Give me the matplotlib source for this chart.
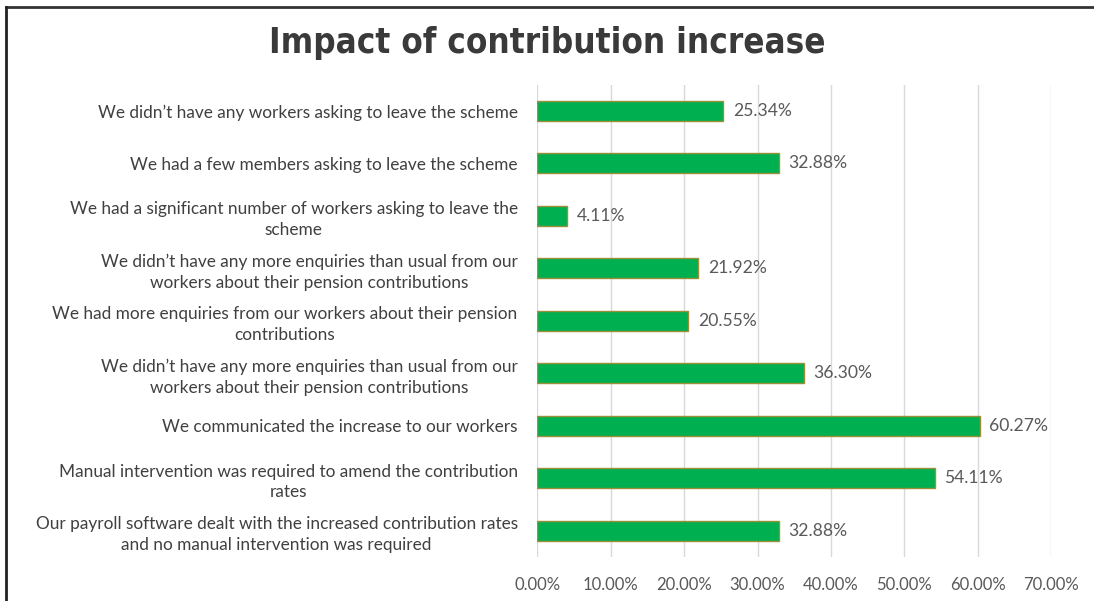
import matplotlib.pyplot as plt
from matplotlib.lines import Line2D

labels = [
    "We didn\u2019t have any workers asking to leave the scheme",
    "We had a few members asking to leave the scheme",
    "We had a significant number of workers asking to leave the\nscheme",
    "We didn\u2019t have any more enquiries than usual from our\nworkers about their pension contributions",
    "We had more enquiries from our workers about their pension\ncontributions",
    "We didn\u2019t have any more enquiries than usual from our\nworkers about their pension contributions",
    "We communicated the increase to our workers",
    "Manual intervention was required to amend the contribution\nrates",
    "Our payroll software dealt with the increased contribution rates\nand no manual intervention was required",
]
values = [25.34, 32.88, 4.11, 21.92, 20.55, 36.30, 60.27, 54.11, 32.88]
xticks = [0, 10, 20, 30, 40, 50, 60, 70]

fig = plt.figure(figsize=(10.94, 6.01), dpi=100)
ax = fig.add_axes([0.491, 0.073, 0.470, 0.786])

pos = list(range(len(values)))
ax.barh(pos, values, height=0.38, color="#00b050", edgecolor="#9c8f3a", linewidth=1, zorder=3)
ax.set_ylim(len(values) - 0.5, -0.5)
ax.set_xlim(0, 70)

ax.set_xticks(xticks)
ax.set_xticklabels(["%.2f%%" % t for t in xticks], fontsize=12, color="#595959", family="Lato")
ax.set_yticks(pos)
ax.set_yticklabels(labels, fontsize=12.4, color="#404040", family="Lato",
                   multialignment="center", linespacing=1.35)
ax.tick_params(axis="both", length=0)
ax.tick_params(axis="y", pad=14)
ax.tick_params(axis="x", pad=14)
ax.grid(axis="x", color="#d9d9d9", linewidth=1, zorder=0)
for s in ax.spines.values():
    s.set_visible(False)

for p, v in zip(pos, values):
    ax.text(v + 1.3, p, "%.2f%%" % v, va="center", ha="left", fontsize=12.6,
            color="#595959", family="Lato")

fig.text(0.5, 0.928, "Impact of contribution increase", ha="center", va="center",
         fontsize=25, fontweight="heavy", color="#3a3a3a",
         family="DejaVu Sans", fontstretch="condensed")

# frame lines along top and left
fig.add_artist(Line2D([0.0055, 1], [0.988, 0.988], color="#333333", linewidth=2, transform=fig.transFigure))
fig.add_artist(Line2D([0.0055, 0.0055], [0, 0.988], color="#222222", linewidth=2, transform=fig.transFigure))

fig.savefig("out.png", dpi=100, facecolor="white")
